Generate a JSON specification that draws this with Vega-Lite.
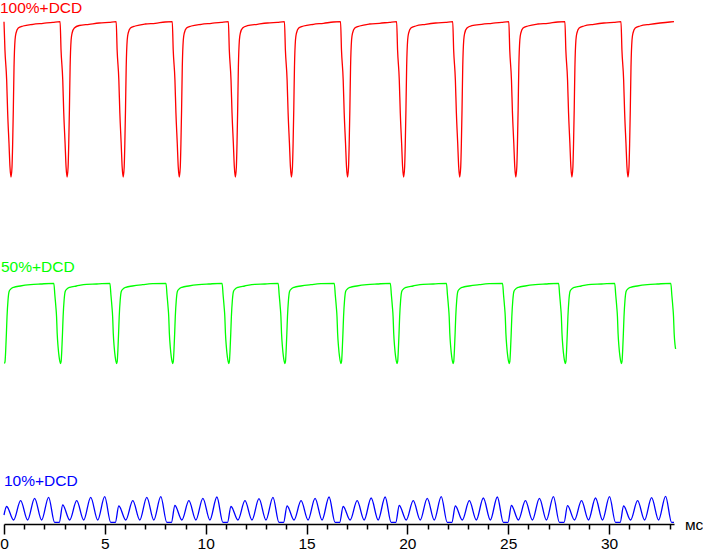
{
  "$schema": "https://vega.github.io/schema/vega-lite/v6.json",
  "width": 703,
  "height": 524,
  "autosize": "none",
  "padding": {"left": 0, "top": 0, "right": 0, "bottom": 27},
  "background": "white",
  "config": {"view": {"stroke": null}},
  "encoding": {
    "x": {
      "field": "t", "type": "quantitative",
      "scale": {"domain": [0, 33.22], "range": [4, 674], "nice": false, "zero": false},
      "axis": {
        "values": [0,1,2,3,4,5,6,7,8,9,10,11,12,13,14,15,16,17,18,19,20,21,22,23,24,25,26,27,28,29,30,31,32,33],
        "labelExpr": "datum.value % 5 === 0 ? datum.label : ''",
        "tickSize": {"condition": {"test": "datum.value % 5 === 0", "value": 10}, "value": 5},
        "title": null, "grid": false,
        "domainColor": "black", "tickColor": "black", "domainWidth": 1.5, "tickWidth": 1.5,
        "labelFont": "Liberation Sans", "labelFontSize": 15.5, "labelColor": "black",
        "labelPadding": 2, "labelFlush": false, "labelOverlap": false
      }
    },
    "y": {
      "field": "v", "type": "quantitative",
      "scale": {"domain": [-1, 523], "nice": false, "zero": false},
      "axis": null
    }
  },
  "layer": [
    {
      "mark": {"type": "line", "color": "#ff0000", "strokeWidth": 1.3, "interpolate": "monotone"},
      "data": {"values": [
        {"t":0.000,"v":501.3},{"t":0.047,"v":473},{"t":0.132,"v":443},{"t":0.182,"v":410},{"t":0.247,"v":380},{"t":0.297,"v":356},{"t":0.347,"v":346},{"t":0.397,"v":356},{"t":0.430,"v":380},{"t":0.462,"v":413},{"t":0.497,"v":456},{"t":0.547,"v":483},{"t":0.597,"v":490},{"t":0.707,"v":495},{"t":0.947,"v":497},{"t":1.437,"v":498.7},{"t":1.937,"v":499.7},{"t":2.427,"v":500.7},
        {"t":2.781,"v":501.3},{"t":2.828,"v":473},{"t":2.913,"v":443},{"t":2.963,"v":410},{"t":3.028,"v":380},{"t":3.078,"v":356},{"t":3.128,"v":346},{"t":3.178,"v":356},{"t":3.211,"v":380},{"t":3.243,"v":413},{"t":3.278,"v":456},{"t":3.328,"v":483},{"t":3.378,"v":490},{"t":3.488,"v":495},{"t":3.728,"v":497.5},{"t":4.218,"v":498.7},{"t":4.718,"v":500},{"t":5.208,"v":500.7},
        {"t":5.562,"v":501.3},{"t":5.609,"v":473},{"t":5.694,"v":443},{"t":5.744,"v":410},{"t":5.809,"v":380},{"t":5.859,"v":356},{"t":5.909,"v":346},{"t":5.959,"v":356},{"t":5.992,"v":380},{"t":6.024,"v":413},{"t":6.059,"v":456},{"t":6.109,"v":483},{"t":6.159,"v":490},{"t":6.269,"v":495},{"t":6.509,"v":497},{"t":6.999,"v":499},{"t":7.499,"v":499.7},{"t":7.989,"v":501},
        {"t":8.343,"v":501.3},{"t":8.390,"v":473},{"t":8.475,"v":443},{"t":8.525,"v":410},{"t":8.590,"v":380},{"t":8.640,"v":356},{"t":8.690,"v":346},{"t":8.740,"v":356},{"t":8.773,"v":380},{"t":8.805,"v":413},{"t":8.840,"v":456},{"t":8.890,"v":483},{"t":8.940,"v":490},{"t":9.050,"v":495},{"t":9.290,"v":497},{"t":9.780,"v":498.7},{"t":10.280,"v":499.7},{"t":10.770,"v":500.7},
        {"t":11.124,"v":501.3},{"t":11.171,"v":473},{"t":11.256,"v":443},{"t":11.306,"v":410},{"t":11.371,"v":380},{"t":11.421,"v":356},{"t":11.471,"v":346},{"t":11.521,"v":356},{"t":11.554,"v":380},{"t":11.586,"v":413},{"t":11.621,"v":456},{"t":11.671,"v":483},{"t":11.721,"v":490},{"t":11.831,"v":495},{"t":12.071,"v":497.3},{"t":12.561,"v":498.7},{"t":13.061,"v":500},{"t":13.551,"v":500.7},
        {"t":13.905,"v":501.3},{"t":13.952,"v":473},{"t":14.037,"v":443},{"t":14.087,"v":410},{"t":14.152,"v":380},{"t":14.202,"v":356},{"t":14.252,"v":346},{"t":14.302,"v":356},{"t":14.335,"v":380},{"t":14.367,"v":413},{"t":14.402,"v":456},{"t":14.452,"v":483},{"t":14.502,"v":490},{"t":14.612,"v":495},{"t":14.852,"v":497},{"t":15.342,"v":498.7},{"t":15.842,"v":499.7},{"t":16.332,"v":501},
        {"t":16.686,"v":501.3},{"t":16.733,"v":473},{"t":16.818,"v":443},{"t":16.868,"v":410},{"t":16.933,"v":380},{"t":16.983,"v":356},{"t":17.033,"v":346},{"t":17.083,"v":356},{"t":17.116,"v":380},{"t":17.148,"v":413},{"t":17.183,"v":456},{"t":17.233,"v":483},{"t":17.283,"v":490},{"t":17.393,"v":495},{"t":17.633,"v":497},{"t":18.123,"v":499},{"t":18.623,"v":499.7},{"t":19.113,"v":500.7},
        {"t":19.467,"v":501.3},{"t":19.514,"v":473},{"t":19.599,"v":443},{"t":19.649,"v":410},{"t":19.714,"v":380},{"t":19.764,"v":356},{"t":19.814,"v":346},{"t":19.864,"v":356},{"t":19.897,"v":380},{"t":19.929,"v":413},{"t":19.964,"v":456},{"t":20.014,"v":483},{"t":20.064,"v":490},{"t":20.174,"v":495},{"t":20.414,"v":497},{"t":20.904,"v":498.7},{"t":21.404,"v":500},{"t":21.894,"v":500.7},
        {"t":22.248,"v":501.3},{"t":22.295,"v":473},{"t":22.380,"v":443},{"t":22.430,"v":410},{"t":22.495,"v":380},{"t":22.545,"v":356},{"t":22.595,"v":346},{"t":22.645,"v":356},{"t":22.678,"v":380},{"t":22.710,"v":413},{"t":22.745,"v":456},{"t":22.795,"v":483},{"t":22.845,"v":490},{"t":22.955,"v":495},{"t":23.195,"v":497.3},{"t":23.685,"v":498.7},{"t":24.185,"v":499.7},{"t":24.675,"v":500.7},
        {"t":25.029,"v":501.3},{"t":25.076,"v":473},{"t":25.161,"v":443},{"t":25.211,"v":410},{"t":25.276,"v":380},{"t":25.326,"v":356},{"t":25.376,"v":346},{"t":25.426,"v":356},{"t":25.459,"v":380},{"t":25.491,"v":413},{"t":25.526,"v":456},{"t":25.576,"v":483},{"t":25.626,"v":490},{"t":25.736,"v":495},{"t":25.976,"v":497},{"t":26.466,"v":499},{"t":26.966,"v":499.7},{"t":27.456,"v":501},
        {"t":27.810,"v":501.3},{"t":27.857,"v":473},{"t":27.942,"v":443},{"t":27.992,"v":410},{"t":28.057,"v":380},{"t":28.107,"v":356},{"t":28.157,"v":346},{"t":28.207,"v":356},{"t":28.240,"v":380},{"t":28.272,"v":413},{"t":28.307,"v":456},{"t":28.357,"v":483},{"t":28.407,"v":490},{"t":28.517,"v":495},{"t":28.757,"v":497},{"t":29.247,"v":498.7},{"t":29.747,"v":500},{"t":30.237,"v":500.7},
        {"t":30.591,"v":501.3},{"t":30.638,"v":473},{"t":30.723,"v":443},{"t":30.773,"v":410},{"t":30.838,"v":380},{"t":30.888,"v":356},{"t":30.938,"v":346},{"t":30.988,"v":356},{"t":31.021,"v":380},{"t":31.053,"v":413},{"t":31.088,"v":456},{"t":31.138,"v":483},{"t":31.188,"v":490},{"t":31.298,"v":495},{"t":31.538,"v":497},{"t":32.028,"v":498.7},{"t":32.528,"v":500},{"t":33.018,"v":501},{"t":33.220,"v":501.3}
      ]}
    },
    {
      "mark": {"type": "line", "color": "#00ff00", "strokeWidth": 1.3, "interpolate": "monotone"},
      "data": {"values": [
        {"t":0.020,"v":159.5},{"t":0.050,"v":161.3},{"t":0.085,"v":173},{"t":0.120,"v":190},{"t":0.150,"v":206.3},{"t":0.200,"v":223},{"t":0.250,"v":231.3},{"t":0.320,"v":233.7},{"t":0.480,"v":235.7},{"t":0.810,"v":237},{"t":1.310,"v":238.3},{"t":1.810,"v":239},
        {"t":2.471,"v":239.7},{"t":2.521,"v":228},{"t":2.571,"v":216.3},{"t":2.606,"v":206.3},{"t":2.636,"v":190},{"t":2.681,"v":176.3},{"t":2.731,"v":166.3},{"t":2.801,"v":159.5},{"t":2.831,"v":161.3},{"t":2.866,"v":173},{"t":2.901,"v":190},{"t":2.931,"v":206.3},{"t":2.981,"v":223},{"t":3.031,"v":231.3},{"t":3.101,"v":233.7},{"t":3.261,"v":235.7},{"t":3.591,"v":237},{"t":4.091,"v":238.7},{"t":4.591,"v":239},
        {"t":5.252,"v":239.7},{"t":5.302,"v":228},{"t":5.352,"v":216.3},{"t":5.387,"v":206.3},{"t":5.417,"v":190},{"t":5.462,"v":176.3},{"t":5.512,"v":166.3},{"t":5.582,"v":159.5},{"t":5.612,"v":161.3},{"t":5.647,"v":173},{"t":5.682,"v":190},{"t":5.712,"v":206.3},{"t":5.762,"v":223},{"t":5.812,"v":231.3},{"t":5.882,"v":233.7},{"t":6.042,"v":235.7},{"t":6.372,"v":237},{"t":6.872,"v":238.3},{"t":7.372,"v":239.3},
        {"t":8.033,"v":239.7},{"t":8.083,"v":228},{"t":8.133,"v":216.3},{"t":8.168,"v":206.3},{"t":8.198,"v":190},{"t":8.243,"v":176.3},{"t":8.293,"v":166.3},{"t":8.363,"v":159.5},{"t":8.393,"v":161.3},{"t":8.428,"v":173},{"t":8.463,"v":190},{"t":8.493,"v":206.3},{"t":8.543,"v":223},{"t":8.593,"v":231.3},{"t":8.663,"v":233.7},{"t":8.823,"v":235.7},{"t":9.153,"v":237},{"t":9.653,"v":238.3},{"t":10.153,"v":239},
        {"t":10.814,"v":239.7},{"t":10.864,"v":228},{"t":10.914,"v":216.3},{"t":10.949,"v":206.3},{"t":10.979,"v":190},{"t":11.024,"v":176.3},{"t":11.074,"v":166.3},{"t":11.144,"v":159.5},{"t":11.174,"v":161.3},{"t":11.209,"v":173},{"t":11.244,"v":190},{"t":11.274,"v":206.3},{"t":11.324,"v":223},{"t":11.374,"v":231.3},{"t":11.444,"v":233.7},{"t":11.604,"v":235.7},{"t":11.934,"v":237},{"t":12.434,"v":238.7},{"t":12.934,"v":239},
        {"t":13.595,"v":239.7},{"t":13.645,"v":228},{"t":13.695,"v":216.3},{"t":13.730,"v":206.3},{"t":13.760,"v":190},{"t":13.805,"v":176.3},{"t":13.855,"v":166.3},{"t":13.925,"v":159.5},{"t":13.955,"v":161.3},{"t":13.990,"v":173},{"t":14.025,"v":190},{"t":14.055,"v":206.3},{"t":14.105,"v":223},{"t":14.155,"v":231.3},{"t":14.225,"v":233.7},{"t":14.385,"v":235.7},{"t":14.715,"v":237},{"t":15.215,"v":238.3},{"t":15.715,"v":239.3},
        {"t":16.376,"v":239.7},{"t":16.426,"v":228},{"t":16.476,"v":216.3},{"t":16.511,"v":206.3},{"t":16.541,"v":190},{"t":16.586,"v":176.3},{"t":16.636,"v":166.3},{"t":16.706,"v":159.5},{"t":16.736,"v":161.3},{"t":16.771,"v":173},{"t":16.806,"v":190},{"t":16.836,"v":206.3},{"t":16.886,"v":223},{"t":16.936,"v":231.3},{"t":17.006,"v":233.7},{"t":17.166,"v":235.7},{"t":17.496,"v":237},{"t":17.996,"v":238.3},{"t":18.496,"v":239},
        {"t":19.157,"v":239.7},{"t":19.207,"v":228},{"t":19.257,"v":216.3},{"t":19.292,"v":206.3},{"t":19.322,"v":190},{"t":19.367,"v":176.3},{"t":19.417,"v":166.3},{"t":19.487,"v":159.5},{"t":19.517,"v":161.3},{"t":19.552,"v":173},{"t":19.587,"v":190},{"t":19.617,"v":206.3},{"t":19.667,"v":223},{"t":19.717,"v":231.3},{"t":19.787,"v":233.7},{"t":19.947,"v":235.7},{"t":20.277,"v":237},{"t":20.777,"v":238.7},{"t":21.277,"v":239},
        {"t":21.938,"v":239.7},{"t":21.988,"v":228},{"t":22.038,"v":216.3},{"t":22.073,"v":206.3},{"t":22.103,"v":190},{"t":22.148,"v":176.3},{"t":22.198,"v":166.3},{"t":22.268,"v":159.5},{"t":22.298,"v":161.3},{"t":22.333,"v":173},{"t":22.368,"v":190},{"t":22.398,"v":206.3},{"t":22.448,"v":223},{"t":22.498,"v":231.3},{"t":22.568,"v":233.7},{"t":22.728,"v":235.7},{"t":23.058,"v":237},{"t":23.558,"v":238.3},{"t":24.058,"v":239.3},
        {"t":24.719,"v":239.7},{"t":24.769,"v":228},{"t":24.819,"v":216.3},{"t":24.854,"v":206.3},{"t":24.884,"v":190},{"t":24.929,"v":176.3},{"t":24.979,"v":166.3},{"t":25.049,"v":159.5},{"t":25.079,"v":161.3},{"t":25.114,"v":173},{"t":25.149,"v":190},{"t":25.179,"v":206.3},{"t":25.229,"v":223},{"t":25.279,"v":231.3},{"t":25.349,"v":233.7},{"t":25.509,"v":235.7},{"t":25.839,"v":237},{"t":26.339,"v":238.3},{"t":26.839,"v":239},
        {"t":27.500,"v":239.7},{"t":27.550,"v":228},{"t":27.600,"v":216.3},{"t":27.635,"v":206.3},{"t":27.665,"v":190},{"t":27.710,"v":176.3},{"t":27.760,"v":166.3},{"t":27.830,"v":159.5},{"t":27.860,"v":161.3},{"t":27.895,"v":173},{"t":27.930,"v":190},{"t":27.960,"v":206.3},{"t":28.010,"v":223},{"t":28.060,"v":231.3},{"t":28.130,"v":233.7},{"t":28.290,"v":235.7},{"t":28.620,"v":237},{"t":29.120,"v":238.7},{"t":29.620,"v":239},
        {"t":30.281,"v":239.7},{"t":30.331,"v":228},{"t":30.381,"v":216.3},{"t":30.416,"v":206.3},{"t":30.446,"v":190},{"t":30.491,"v":176.3},{"t":30.541,"v":166.3},{"t":30.611,"v":159.5},{"t":30.641,"v":161.3},{"t":30.676,"v":173},{"t":30.711,"v":190},{"t":30.741,"v":206.3},{"t":30.791,"v":223},{"t":30.841,"v":231.3},{"t":30.911,"v":233.7},{"t":31.071,"v":235.7},{"t":31.401,"v":237},{"t":31.901,"v":238.3},{"t":32.401,"v":239},
        {"t":33.062,"v":239.7},{"t":33.112,"v":228},{"t":33.162,"v":216.3},{"t":33.197,"v":206.3},{"t":33.227,"v":190},{"t":33.272,"v":178},{"t":33.300,"v":174}
      ]}
    },
    {
      "mark": {"type": "line", "color": "#0000ff", "strokeWidth": 1.3, "interpolate": "monotone"},
      "data": {"values": [
        {"t":0.000,"v":8},
        {"t":0.130,"v":16.5},{"t":0.477,"v":3},{"t":0.824,"v":22.3},{"t":1.171,"v":3},{"t":1.518,"v":24.7},{"t":1.865,"v":3},{"t":2.212,"v":25.7},{"t":2.510,"v":0.7},{"t":2.740,"v":0.7},
        {"t":2.911,"v":18},{"t":3.258,"v":3},{"t":3.605,"v":22.3},{"t":3.952,"v":3},{"t":4.299,"v":25.7},{"t":4.646,"v":3},{"t":4.993,"v":26.3},{"t":5.291,"v":0.7},{"t":5.521,"v":0.7},
        {"t":5.692,"v":17},{"t":6.039,"v":3},{"t":6.386,"v":22.3},{"t":6.733,"v":3},{"t":7.080,"v":25.7},{"t":7.427,"v":3},{"t":7.774,"v":26.3},{"t":8.072,"v":0.7},{"t":8.302,"v":0.7},
        {"t":8.473,"v":17.5},{"t":8.820,"v":3},{"t":9.167,"v":22.3},{"t":9.514,"v":3},{"t":9.861,"v":24.7},{"t":10.208,"v":3},{"t":10.555,"v":26},{"t":10.853,"v":0.7},{"t":11.083,"v":0.7},
        {"t":11.254,"v":16.5},{"t":11.601,"v":3},{"t":11.948,"v":22.3},{"t":12.295,"v":3},{"t":12.642,"v":24.3},{"t":12.989,"v":3},{"t":13.336,"v":25.7},{"t":13.634,"v":0.7},{"t":13.864,"v":0.7},
        {"t":14.035,"v":17},{"t":14.382,"v":3},{"t":14.729,"v":22.3},{"t":15.076,"v":3},{"t":15.423,"v":24.7},{"t":15.770,"v":3},{"t":16.117,"v":26},{"t":16.415,"v":0.7},{"t":16.645,"v":0.7},
        {"t":16.816,"v":16.5},{"t":17.163,"v":3},{"t":17.510,"v":22.3},{"t":17.857,"v":3},{"t":18.204,"v":25},{"t":18.551,"v":3},{"t":18.898,"v":26},{"t":19.196,"v":0.7},{"t":19.426,"v":0.7},
        {"t":19.597,"v":17.5},{"t":19.944,"v":3},{"t":20.291,"v":22.3},{"t":20.638,"v":3},{"t":20.985,"v":24.7},{"t":21.332,"v":3},{"t":21.679,"v":26.3},{"t":21.977,"v":0.7},{"t":22.207,"v":0.7},
        {"t":22.378,"v":17},{"t":22.725,"v":3},{"t":23.072,"v":22.3},{"t":23.419,"v":3},{"t":23.766,"v":25},{"t":24.113,"v":3},{"t":24.460,"v":26},{"t":24.758,"v":0.7},{"t":24.988,"v":0.7},
        {"t":25.159,"v":17.5},{"t":25.506,"v":3},{"t":25.853,"v":22.3},{"t":26.200,"v":3},{"t":26.547,"v":24.7},{"t":26.894,"v":3},{"t":27.241,"v":26.3},{"t":27.539,"v":0.7},{"t":27.769,"v":0.7},
        {"t":27.940,"v":17.3},{"t":28.287,"v":3},{"t":28.634,"v":22.3},{"t":28.981,"v":3},{"t":29.328,"v":25},{"t":29.675,"v":3},{"t":30.022,"v":26.3},{"t":30.320,"v":0.7},{"t":30.550,"v":0.7},
        {"t":30.721,"v":17},{"t":31.068,"v":3},{"t":31.415,"v":22.3},{"t":31.762,"v":3},{"t":32.109,"v":25.3},{"t":32.456,"v":3},{"t":32.803,"v":26.7},{"t":33.101,"v":0.7},{"t":33.220,"v":0.7}
      ]}
    },
    {
      "mark": {"type": "text", "align": "left", "baseline": "alphabetic", "font": "Liberation Sans", "fontSize": 15.5},
      "data": {"values": [
        {"t":-0.2,"v":510.5,"label":"100%+DCD","c":"#ff0000"},
        {"t":-0.15,"v":251,"label":"50%+DCD","c":"#00ff00"},
        {"t":0,"v":37,"label":"10%+DCD","c":"#0000ff"}
      ]},
      "encoding": {
        "text": {"field": "label"},
        "color": {"field": "c", "type": "nominal", "scale": null}
      }
    },
    {
      "mark": {"type": "text", "align": "left", "baseline": "alphabetic", "font": "Liberation Sans", "fontSize": 15.5, "color": "black"},
      "data": {"values": [{"t":33.76,"v":-7,"label":"мс"}]},
      "encoding": {"text": {"field": "label"}}
    }
  ]
}
